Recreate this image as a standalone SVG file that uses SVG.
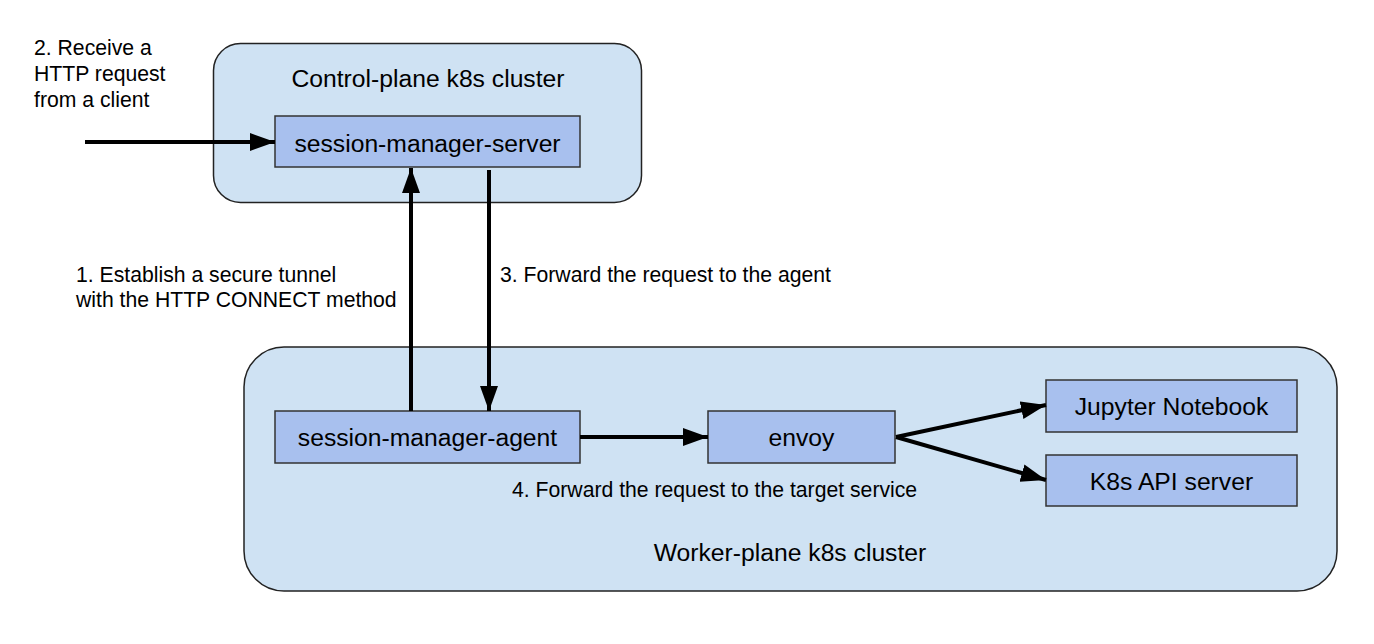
<svg xmlns="http://www.w3.org/2000/svg" width="1374" height="644" viewBox="0 0 1374 644">
  <style>
    .cluster { fill: #cfe2f3; stroke: #222; stroke-width: 1.5; }
    .node { fill: #a8c0ee; stroke: #333; stroke-width: 1.5; }
    .title { font-family: "Liberation Sans", Arial, sans-serif; font-size: 24.7px; fill: #000; text-anchor: middle; }
    .note { font-family: "Liberation Sans", Arial, sans-serif; font-size: 21.2px; fill: #000; }
    .edge { stroke: #000; stroke-width: 4; fill: none; }
  </style>
  <defs>
    <marker id="arrow" markerUnits="userSpaceOnUse" markerWidth="26" markerHeight="20" refX="25" refY="9" orient="auto">
      <path d="M0,0 L25,9 L0,18 Z" fill="#000"/>
    </marker>
  </defs>
  <rect width="1374" height="644" fill="#fff"/>

  <g id="control-plane-cluster">
    <rect class="cluster" x="213.5" y="43.5" width="428" height="159" rx="27" ry="27"/>
    <text class="title" x="428" y="87">Control-plane k8s cluster</text>
  </g>
  <g id="worker-plane-cluster">
    <rect class="cluster" x="244" y="347" width="1093" height="244" rx="40" ry="40"/>
    <text class="title" x="790" y="561">Worker-plane k8s cluster</text>
  </g>

  <g id="session-manager-server">
    <rect class="node" x="275" y="116" width="305" height="51"/>
    <text class="title" x="427.5" y="152">session-manager-server</text>
  </g>
  <g id="session-manager-agent">
    <rect class="node" x="275" y="411" width="305" height="52"/>
    <text class="title" x="427.5" y="446">session-manager-agent</text>
  </g>
  <g id="envoy">
    <rect class="node" x="708" y="411" width="187" height="52"/>
    <text class="title" x="801.5" y="446">envoy</text>
  </g>
  <g id="jupyter-notebook">
    <rect class="node" x="1046" y="380" width="251" height="52"/>
    <text class="title" x="1171.5" y="415">Jupyter Notebook</text>
  </g>
  <g id="k8s-api-server">
    <rect class="node" x="1046" y="455" width="251" height="51"/>
    <text class="title" x="1171.5" y="490">K8s API server</text>
  </g>

  <g id="connectors">
    <line class="edge" x1="85" y1="142" x2="275" y2="142" marker-end="url(#arrow)"/>
    <line class="edge" x1="411" y1="411" x2="411" y2="168" marker-end="url(#arrow)"/>
    <line class="edge" x1="489" y1="170" x2="489" y2="411" marker-end="url(#arrow)"/>
    <line class="edge" x1="580" y1="437" x2="708" y2="437" marker-end="url(#arrow)"/>
    <line class="edge" x1="896" y1="437" x2="1046" y2="405" marker-end="url(#arrow)"/>
    <line class="edge" x1="896" y1="437" x2="1046" y2="480" marker-end="url(#arrow)"/>
  </g>

  <g id="labels">
    <text class="note" x="34" y="55">2. Receive a</text>
    <text class="note" x="34" y="81">HTTP request</text>
    <text class="note" x="34" y="107">from a client</text>
    <text class="note" x="76" y="282">1. Establish a secure tunnel</text>
    <text class="note" x="76" y="307">with the HTTP CONNECT method</text>
    <text class="note" x="500" y="282">3. Forward the request to the agent</text>
    <text class="note" x="512" y="497">4. Forward the request to the target service</text>
  </g>
</svg>
